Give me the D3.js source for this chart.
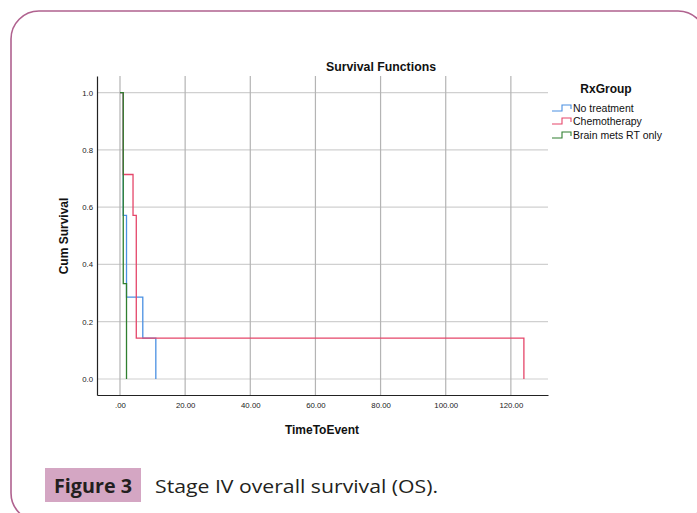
<!DOCTYPE html>
<html><head><meta charset="utf-8">
<script src="https://cdn.jsdelivr.net/npm/d3@7"></script>
<style>body{margin:0;background:#fff}svg{display:block}</style>
</head><body>
<script>
const groups = ["No treatment","Chemotherapy","Brain mets RT only"];
const colors = ["#4a90e2","#e5466a","#2f7f2f"];
const noTreatTimes = [0,1,2,7,11];
const noTreatSurv  = [1,0.571,0.286,0.143,0];
const chemoTimes   = [0,1,4,5,124];
const chemoSurv    = [1,0.714,0.571,0.143,0];
const brainTimes   = [0,1,2];
const brainSurv    = [1,0.333,0];
const xTicks = [0,20,40,60,80,100,120];
const xTickLabels = [".00","20.00","40.00","60.00","80.00","100.00","120.00"];
const yTicks = [0,0.2,0.4,0.6,0.8,1.0];

const W=697,H=513;
const svg=d3.select("body").append("svg").attr("width",W).attr("height",H);
svg.append("rect").attr("x",11).attr("y",11).attr("width",695).attr("height",510)
  .attr("rx",28).attr("fill","none").attr("stroke","#b0628f").attr("stroke-width",1.6);

const L=97,R=548,T=76,B=395;
const x=d3.scaleLinear().domain([-7.06,131.4]).range([L,R]);
const y=d3.scaleLinear().domain([-0.0559,1.0579]).range([B,T]);

// gridlines
svg.append("g").selectAll("line").data(yTicks).join("line")
  .attr("x1",L).attr("x2",R).attr("y1",d=>y(d)).attr("y2",d=>y(d))
  .attr("stroke","#d0d0d0").attr("stroke-width",1.2);
svg.append("g").selectAll("line").data(xTicks).join("line")
  .attr("x1",d=>x(d)).attr("x2",d=>x(d)).attr("y1",T).attr("y2",B)
  .attr("stroke","#b4b4b4").attr("stroke-width",1.2);

// axes
const xAxis=d3.axisBottom(x).tickValues(xTicks).tickFormat((d,i)=>xTickLabels[i]).tickSize(0).tickPadding(7);
const gx=svg.append("g").attr("transform",`translate(0,${B})`).call(xAxis);
gx.select(".domain").attr("stroke","#222").attr("stroke-width",1.2);
gx.selectAll("text").attr("font-family","Liberation Sans, Arial").attr("font-size",7.8).attr("fill","#222");
const yAxis=d3.axisLeft(y).tickValues(yTicks).tickFormat(d3.format(".1f")).tickSize(0).tickPadding(4);
const gy=svg.append("g").attr("transform",`translate(${L},0)`).call(yAxis);
gy.select(".domain").attr("stroke","#222").attr("stroke-width",1.2);
gy.selectAll("text").attr("font-family","Liberation Sans, Arial").attr("font-size",7.8).attr("fill","#222");

// curves
const series=[[noTreatTimes,noTreatSurv],[chemoTimes,chemoSurv],[brainTimes,brainSurv]];
const line=d3.line().x(d=>x(d[0])).y(d=>y(d[1])).curve(d3.curveStepAfter);
series.forEach((s,i)=>{
  const pts=s[0].map((t,j)=>[t,s[1][j]]);
  svg.append("path").attr("d",line(pts)).attr("fill","none")
    .attr("stroke",colors[i]).attr("stroke-width",1.3);
});

// titles
svg.append("text").attr("x",381).attr("y",71).attr("text-anchor","middle")
  .attr("font-family","Liberation Sans, Arial").attr("font-weight","bold").attr("font-size",12.3)
  .attr("fill","#111").text("Survival Functions");
svg.append("text").attr("x",322).attr("y",434).attr("text-anchor","middle")
  .attr("font-family","Liberation Sans, Arial").attr("font-weight","bold").attr("font-size",12)
  .attr("fill","#111").text("TimeToEvent");
svg.append("text").attr("transform","translate(68,236) rotate(-90)").attr("text-anchor","middle")
  .attr("font-family","Liberation Sans, Arial").attr("font-weight","bold").attr("font-size",12)
  .attr("fill","#111").text("Cum Survival");

// legend
svg.append("text").attr("x",606).attr("y",93).attr("text-anchor","middle")
  .attr("font-family","Liberation Sans, Arial").attr("font-weight","bold").attr("font-size",12)
  .attr("fill","#111").text("RxGroup");
const legY=[108,121,135];
groups.forEach((g,i)=>{
  const yy=legY[i];
  svg.append("path").attr("d",`M552,${yy+3}H562V${yy-3}H571V${yy+1}`)
    .attr("fill","none").attr("stroke",colors[i]).attr("stroke-width",1.1);
  svg.append("text").attr("x",573).attr("y",yy+3.5)
    .attr("font-family","Liberation Sans, Arial").attr("font-size",10.5)
    .attr("fill","#111").text(g);
});

// caption
svg.append("rect").attr("x",45).attr("y",468).attr("width",96).attr("height",34).attr("fill","#d4a6c3");
svg.append("text").attr("x",54).attr("y",493)
  .attr("font-family","Open Sans").attr("font-weight","bold").attr("font-size",19)
  .attr("fill","#231f20").attr("textLength",78).attr("lengthAdjust","spacingAndGlyphs").text("Figure 3");
svg.append("text").attr("x",155).attr("y",493)
  .attr("font-family","Open Sans").attr("font-size",19)
  .attr("fill","#231f20").attr("textLength",283).attr("lengthAdjust","spacingAndGlyphs").text("Stage IV overall survival (OS).");
</script>
</body></html>
